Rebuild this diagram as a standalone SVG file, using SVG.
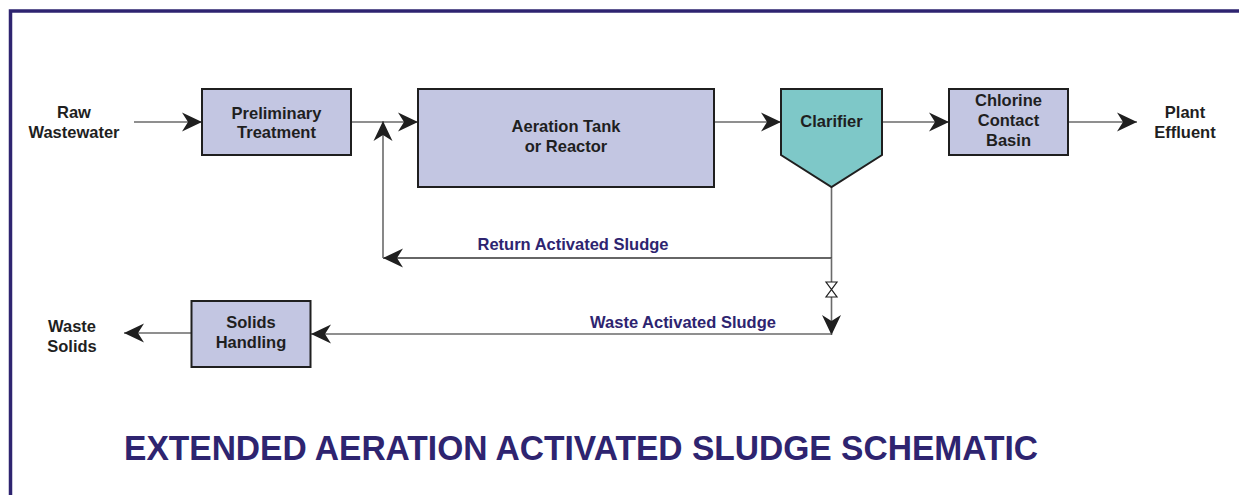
<svg xmlns="http://www.w3.org/2000/svg" width="1239" height="495" viewBox="0 0 1239 495">
  <defs>
    <style>
      .box { fill: #c3c6e2; stroke: #1f1f1f; stroke-width: 2; }
      .clar { fill: #7ec8c8; stroke: #1f1f1f; stroke-width: 2; }
      .lbl { font-family: "Liberation Sans", Arial, sans-serif; font-weight: bold; font-size: 16.5px; fill: #1f1f1f; text-anchor: middle; }
      .flow { font-family: "Liberation Sans", Arial, sans-serif; font-weight: bold; font-size: 16.5px; fill: #2e2470; text-anchor: middle; }
      .wire { fill: none; stroke: #6a6a6a; stroke-width: 1.6; }
      .wire-dark { fill: none; stroke: #333; stroke-width: 1.4; }
      .title { font-family: "Liberation Sans", Arial, sans-serif; font-weight: bold; font-size: 35px; fill: #2e2470; }
    </style>
    <marker id="arrow" markerUnits="userSpaceOnUse" markerWidth="22" markerHeight="22" viewBox="-21 -11 22 22" refX="0" refY="0" orient="auto">
      <path d="M0,0 L-20,-9.5 L-14,0 L-20,9.5 Z" fill="#1f1f1f"/>
    </marker>
  </defs>

  <rect width="1239" height="495" fill="#ffffff"/>

  <!-- frame -->
  <path d="M10.5,495 V11 H1239" fill="none" stroke="#2e2470" stroke-width="3.5"/>

  <!-- connectors -->
  <g id="connectors">
    <line class="wire" x1="134" y1="122" x2="202" y2="122" marker-end="url(#arrow)"/>
    <line class="wire" x1="351" y1="122" x2="418" y2="122" marker-end="url(#arrow)"/>
    <line class="wire" x1="714" y1="122" x2="781" y2="122" marker-end="url(#arrow)"/>
    <line class="wire" x1="882" y1="122" x2="949" y2="122" marker-end="url(#arrow)"/>
    <line class="wire" x1="1068" y1="122" x2="1137" y2="122" marker-end="url(#arrow)"/>
    <!-- return activated sludge loop -->
    <line class="wire" x1="831.5" y1="187" x2="831.5" y2="258"/>
    <line class="wire-dark" x1="831.5" y1="258" x2="383" y2="258" marker-end="url(#arrow)"/>
    <line class="wire" x1="383" y1="258" x2="383" y2="121" marker-end="url(#arrow)"/>
    <!-- waste activated sludge -->
    <line class="wire" x1="831.5" y1="258" x2="831.5" y2="282"/>
    <line class="wire" x1="831.5" y1="297" x2="831.5" y2="335" marker-end="url(#arrow)"/>
    <path d="M826,282 H837 L826,297 H837 Z" fill="#ffffff" stroke="#1f1f1f" stroke-width="1.2"/>
    <line class="wire" x1="831.5" y1="334" x2="311" y2="334" marker-end="url(#arrow)"/>
    <line class="wire" x1="191" y1="333" x2="124" y2="333" marker-end="url(#arrow)"/>
    <text class="flow" x="573" y="250">Return Activated Sludge</text>
    <text class="flow" x="683" y="328">Waste Activated Sludge</text>
  </g>

  <!-- terminal labels -->
  <g id="raw-wastewater">
    <text class="lbl" x="74" y="118">Raw</text>
    <text class="lbl" x="74" y="137.5">Wastewater</text>
  </g>
  <g id="plant-effluent">
    <text class="lbl" x="1185" y="117.5">Plant</text>
    <text class="lbl" x="1185" y="137.5">Effluent</text>
  </g>
  <g id="waste-solids">
    <text class="lbl" x="72" y="331.5">Waste</text>
    <text class="lbl" x="72" y="351.5">Solids</text>
  </g>

  <!-- process units -->
  <g id="preliminary-treatment">
    <rect class="box" x="202" y="89" width="149" height="66"/>
    <text class="lbl" x="276.5" y="119">Preliminary</text>
    <text class="lbl" x="276.5" y="138">Treatment</text>
  </g>
  <g id="aeration-tank">
    <rect class="box" x="418" y="89" width="296" height="98"/>
    <text class="lbl" x="566" y="131.5">Aeration Tank</text>
    <text class="lbl" x="566" y="151.5">or Reactor</text>
  </g>
  <g id="clarifier">
    <path class="clar" d="M781,89 H882 V155 L831.5,187 L781,155 Z"/>
    <text class="lbl" x="831.5" y="126.5">Clarifier</text>
  </g>
  <g id="chlorine-contact-basin">
    <rect class="box" x="949" y="89" width="119" height="66"/>
    <text class="lbl" x="1008.5" y="105.5">Chlorine</text>
    <text class="lbl" x="1008.5" y="126">Contact</text>
    <text class="lbl" x="1008.5" y="146">Basin</text>
  </g>
  <g id="solids-handling">
    <rect class="box" x="191.5" y="301" width="119" height="66"/>
    <text class="lbl" x="251" y="327.5">Solids</text>
    <text class="lbl" x="251" y="348">Handling</text>
  </g>

  <text class="title" x="124" y="460" textLength="914" lengthAdjust="spacingAndGlyphs">EXTENDED AERATION ACTIVATED SLUDGE SCHEMATIC</text>
</svg>
